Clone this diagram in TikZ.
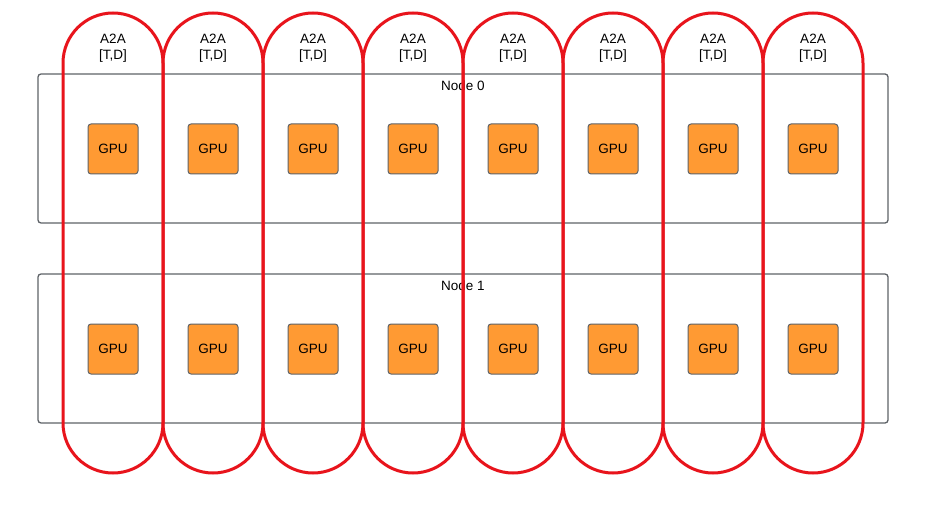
\documentclass[tikz,border=0pt]{standalone}
\usepackage{fontspec}
\setmainfont{Liberation Sans}
\definecolor{pillred}{HTML}{E8141C}
\definecolor{boxgrey}{HTML}{5F6368}
\definecolor{gpuorange}{HTML}{FF9A33}
\begin{document}
\begin{tikzpicture}[x=1pt,y=-1pt,
  hostbox/.style={draw=boxgrey,line width=1.3pt,rounded corners=3pt,minimum width=850pt,minimum height=149pt,inner sep=0pt,outer sep=0pt,anchor=north west},
  gpubox/.style={draw=boxgrey,line width=1pt,fill=gpuorange,rounded corners=3pt,minimum width=50pt,minimum height=50pt,inner sep=0pt,outer sep=0pt,font=\fontsize{13.5}{15}\selectfont},
  hostlabel/.style={font=\fontsize{13.5}{15}\selectfont,inner sep=0pt},
  pill/.style={draw=pillred,line width=3pt,rounded corners=50pt,minimum width=100pt,minimum height=460pt,inner sep=0pt,outer sep=0pt,anchor=north west},
  a2alabel/.style={font=\fontsize{13.5}{16}\selectfont,align=center,inner sep=0pt}]
\useasboundingbox (0,0) rectangle (943,516);
\fill[white] (0,0) rectangle (943,516);
\node[hostbox] (host0) at (38,74) {};
\node[hostbox] (host1) at (38,274) {};
\node[hostlabel] (host0lbl) at (463,86) {Node 0};
\node[hostlabel] (host1lbl) at (463,286) {Node 1};
\foreach \i in {0,...,7} {
  \node[gpubox] (g0\i) at ({113+100*\i},149) {GPU};
  \node[gpubox] (g1\i) at ({113+100*\i},349) {GPU};
}
\foreach \i in {0,...,7} {
  \node[pill] (p\i) at ({63+100*\i},13) {};
  \node[a2alabel] (a\i) at ({113+100*\i},48) {A2A\\{[T,D]}};
}
\end{tikzpicture}
\end{document}
